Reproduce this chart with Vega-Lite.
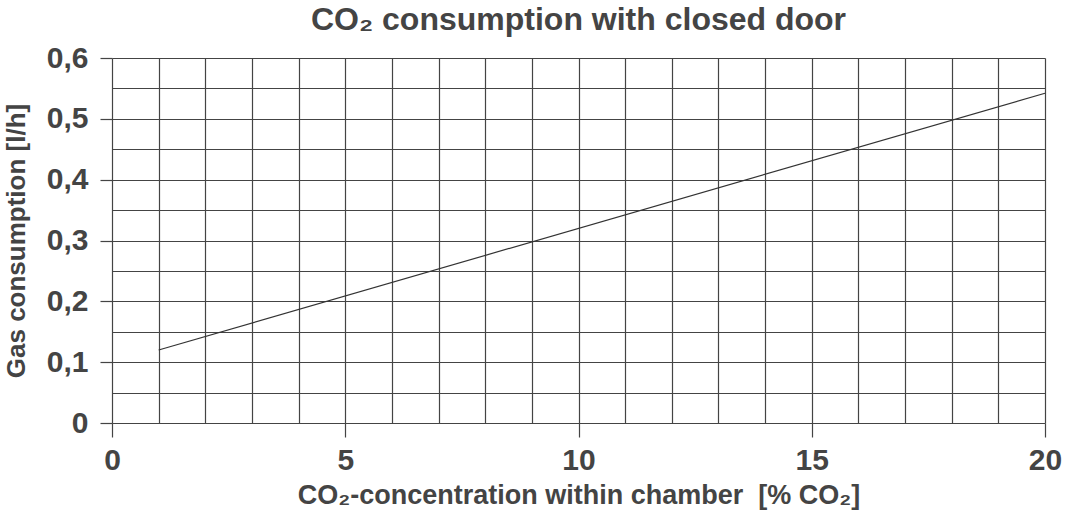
{
  "$schema": "https://vega.github.io/schema/vega-lite/v6.json",
  "width": 933,
  "height": 365,
  "autosize": {"type": "none"},
  "padding": {"left": 112, "top": 58, "right": 21, "bottom": 98},
  "background": "white",
  "title": {
    "text": "CO₂ consumption with closed door",
    "fontSize": 32,
    "font": "Liberation Sans",
    "fontWeight": "bold",
    "color": "#444444",
    "anchor": "middle",
    "offset": 6
  },
  "data": {
    "values": [
      {"conc": 1, "gas": 0.12},
      {"conc": 20, "gas": 0.542}
    ]
  },
  "mark": {"type": "line", "color": "#333333", "strokeWidth": 1.2},
  "encoding": {
    "x": {
      "field": "conc",
      "type": "quantitative",
      "scale": {"domain": [0, 20], "nice": false, "zero": true},
      "axis": {
        "title": "CO₂-concentration within chamber\u00a0 [% CO₂]",
        "values": [0,1,2,3,4,5,6,7,8,9,10,11,12,13,14,15,16,17,18,19,20],
        "grid": true,
        "gridColor": "#444444",
        "gridWidth": 1.2,
        "gridOpacity": 1,
        "domain": false,
        "tickSize": 14,
        "tickColor": "#444444",
        "tickWidth": 1.2,
        "tickOpacity": {"condition": {"test": "datum.value % 5 == 0", "value": 1}, "value": 0},
        "labelExpr": "datum.value % 5 == 0 ? datum.label : ''",
        "labelOverlap": false,
        "labelFlush": false,
        "labelBound": false,
        "labelFont": "Liberation Sans",
        "labelFontSize": 30,
        "labelFontWeight": "bold",
        "labelColor": "#444444",
        "labelPadding": 8,
        "titleFont": "Liberation Sans",
        "titleFontSize": 27,
        "titleFontWeight": "bold",
        "titleColor": "#444444",
        "titlePadding": 7
      }
    },
    "y": {
      "field": "gas",
      "type": "quantitative",
      "scale": {"domain": [0, 0.6], "nice": false, "zero": true},
      "axis": {
        "title": "Gas consumption [l/h]",
        "values": [0,0.05,0.1,0.15,0.2,0.25,0.3,0.35,0.4,0.45,0.5,0.55,0.6],
        "grid": true,
        "gridColor": "#444444",
        "gridWidth": 1.2,
        "gridOpacity": 1,
        "domain": false,
        "tickSize": 12,
        "tickColor": "#444444",
        "tickWidth": 1.2,
        "tickOpacity": {"condition": {"test": "abs(datum.value*10 - round(datum.value*10)) < 0.001", "value": 1}, "value": 0},
        "labelExpr": "abs(datum.value*10 - round(datum.value*10)) < 0.001 ? (datum.value == 0 ? '0' : replace(format(datum.value, '.1f'), '.', ',')) : ''",
        "labelOverlap": false,
        "labelFlush": false,
        "labelBound": false,
        "labelFont": "Liberation Sans",
        "labelFontSize": 30,
        "labelFontWeight": "bold",
        "labelColor": "#444444",
        "labelPadding": 12,
        "titleFont": "Liberation Sans",
        "titleFontSize": 26,
        "titleFontWeight": "bold",
        "titleColor": "#444444",
        "titlePadding": 17
      }
    }
  },
  "config": {"view": {"stroke": null}}
}
